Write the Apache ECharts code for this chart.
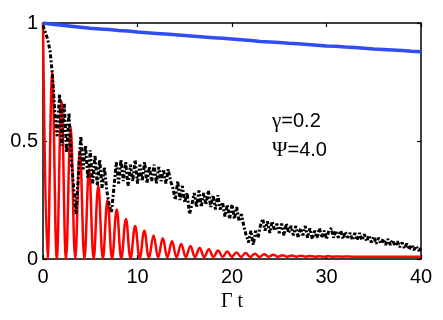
<!DOCTYPE html>
<html>
<head>
<meta charset="utf-8">
<script src="https://cdn.jsdelivr.net/npm/echarts@6/dist/echarts.min.js"></script>
<style>
  html, body { margin: 0; padding: 0; background: #fff; }
  #chart { width: 443px; height: 320px; }
</style>
</head>
<body>
<div id="chart"></div>
<script>
// x axis ticks
const xTicks = [0, 10, 20, 30, 40]
const yTicks = [0, 0.5, 1]

// blue curve, one value per unit of Γt
const blueValues = [1.0, 0.995, 0.99, 0.986, 0.982, 0.978, 0.975, 0.972, 0.968, 0.966,
  0.962, 0.959, 0.956, 0.953, 0.950, 0.947, 0.944, 0.941, 0.938, 0.935,
  0.932, 0.929, 0.926, 0.922, 0.920, 0.917, 0.914, 0.912, 0.909, 0.906,
  0.903, 0.901, 0.898, 0.896, 0.893, 0.890, 0.888, 0.886, 0.883, 0.880, 0.878]

// red curve: heights of successive maxima and minima (one period apart)
const redPeriod = 0.975
const redPeaks = [1.0, 0.79, 0.67, 0.56, 0.46, 0.38, 0.31, 0.25, 0.21, 0.17,
  0.14, 0.12, 0.10, 0.088, 0.075, 0.064, 0.055, 0.047, 0.041, 0.036,
  0.032, 0.028, 0.025, 0.022, 0.020, 0.018, 0.016, 0.015, 0.014, 0.013,
  0.012, 0.012, 0.011, 0.011, 0.010, 0.010, 0.010, 0.010, 0.010, 0.010, 0.010, 0.010]
const redTroughs = [0, 0, 0, 0, 0, 0, 0, 0, 0.002, 0.003,
  0.004, 0.005, 0.006, 0.007, 0.007, 0.008, 0.008, 0.008, 0.009, 0.009,
  0.009, 0.009, 0.009, 0.009, 0.010, 0.010, 0.010, 0.010, 0.010, 0.010,
  0.010, 0.010, 0.010, 0.010, 0.010, 0.010, 0.010, 0.010, 0.010, 0.010, 0.010]

// black dash-dot curve, sampled every 0.25 of Γt
const blackStep = 0.25
const blackValues = [
  0.99, 0.96, 0.93, 0.88, 0.78, 0.62, 0.52, 0.70, 0.48, 0.66,
  0.45, 0.62, 0.42, 0.30, 0.19, 0.36, 0.52, 0.38, 0.48, 0.34,
  0.46, 0.32, 0.44, 0.31, 0.42, 0.30, 0.39, 0.29, 0.23, 0.20,
  0.30, 0.41, 0.32, 0.42, 0.33, 0.41, 0.31, 0.40, 0.33, 0.42,
  0.32, 0.40, 0.33, 0.41, 0.32, 0.39, 0.33, 0.40, 0.32, 0.39,
  0.33, 0.38, 0.32, 0.38, 0.33, 0.30, 0.25, 0.33, 0.25, 0.31,
  0.24, 0.28, 0.19, 0.23, 0.28, 0.22, 0.29, 0.22, 0.28, 0.23,
  0.29, 0.22, 0.27, 0.21, 0.27, 0.21, 0.24, 0.18, 0.23, 0.17,
  0.23, 0.17, 0.22, 0.16, 0.19, 0.14, 0.10, 0.07, 0.12, 0.06,
  0.12, 0.09, 0.14, 0.17, 0.12, 0.16, 0.11, 0.16, 0.12, 0.15,
  0.11, 0.15, 0.10, 0.15, 0.11, 0.14, 0.10, 0.14, 0.09, 0.13,
  0.10, 0.14, 0.09, 0.13, 0.085, 0.12, 0.09, 0.13, 0.09, 0.12,
  0.085, 0.12, 0.13, 0.09, 0.12, 0.09, 0.12, 0.085, 0.115, 0.09,
  0.11, 0.08, 0.11, 0.08, 0.11, 0.08, 0.105, 0.075, 0.10, 0.07,
  0.095, 0.065, 0.09, 0.065, 0.085, 0.06, 0.085, 0.06, 0.08, 0.055,
  0.075, 0.05, 0.07, 0.045, 0.065, 0.04, 0.06, 0.038, 0.055, 0.035, 0.045]

const blueData = blueValues.map((v, i) => [i, v])
const blackData = blackValues.map((v, i) => [i * blackStep, v])
const redData = []
redPeaks.forEach((p, k) => {
  redData.push([k * redPeriod, p])
  if (k < redTroughs.length) redData.push([(k + 0.5) * redPeriod, redTroughs[k]])
})
redData.push([40, redPeaks[redPeaks.length - 1]])

const sans = 'Liberation Sans, Arial, sans-serif'
const serif = 'Liberation Serif, Times New Roman, serif'
const axisBase = {
  axisLine: { show: true, onZero: false, lineStyle: { color: '#000', width: 1.5 } },
  axisTick: { show: true, inside: true, length: 4, lineStyle: { color: '#000', width: 1.2 } },
  splitLine: { show: false }
}

const chart = echarts.init(document.getElementById('chart'))
chart.setOption({
  animation: false,
  grid: { left: 43, right: 22, top: 23, bottom: 61 },
  xAxis: [
    {
      ...axisBase, type: 'value', min: xTicks[0], max: xTicks[xTicks.length - 1], interval: 10,
      position: 'bottom',
      axisLabel: { color: '#000', fontSize: 20, fontFamily: sans, margin: 8 },
      name: 'Γ t', nameLocation: 'middle', nameGap: 30,
      nameTextStyle: { color: '#000', fontSize: 20, fontFamily: serif }
    },
    {
      ...axisBase, type: 'value', min: 0, max: 40, interval: 10,
      position: 'top', axisLabel: { show: false }
    }
  ],
  yAxis: [
    {
      ...axisBase, type: 'value', min: yTicks[0], max: yTicks[yTicks.length - 1], interval: 0.5,
      position: 'left',
      axisLabel: {
        color: '#000', fontSize: 20, fontFamily: sans, margin: 5,
        formatter: v => String(v)
      }
    },
    {
      ...axisBase, type: 'value', min: 0, max: 1, interval: 0.5,
      position: 'right', axisLabel: { show: false }
    }
  ],
  series: [
    {
      type: 'line', data: redData, showSymbol: false, smooth: 0.4,
      lineStyle: { color: '#ff0000', width: 2.5 }, z: 2
    },
    {
      type: 'line', data: blackData, showSymbol: false,
      lineStyle: { color: '#000', width: 3, type: [4, 2, 2, 2] }, z: 3
    },
    {
      type: 'line', data: blueData, showSymbol: false,
      lineStyle: { color: '#2f4df2', width: 3.5 }, z: 4
    }
  ],
  graphic: [
    {
      type: 'text', left: 272, top: 111,
      style: {
        text: '{g|γ}{s|=0.2}',
        rich: {
          g: { fontFamily: serif, fontSize: 21, fill: '#000' },
          s: { fontFamily: sans, fontSize: 20, fill: '#000' }
        }
      }
    },
    {
      type: 'text', left: 272, top: 140,
      style: {
        text: '{g|Ψ}{s|=4.0}',
        rich: {
          g: { fontFamily: serif, fontSize: 21, fill: '#000' },
          s: { fontFamily: sans, fontSize: 20, fill: '#000' }
        }
      }
    }
  ]
})
</script>
</body>
</html>
